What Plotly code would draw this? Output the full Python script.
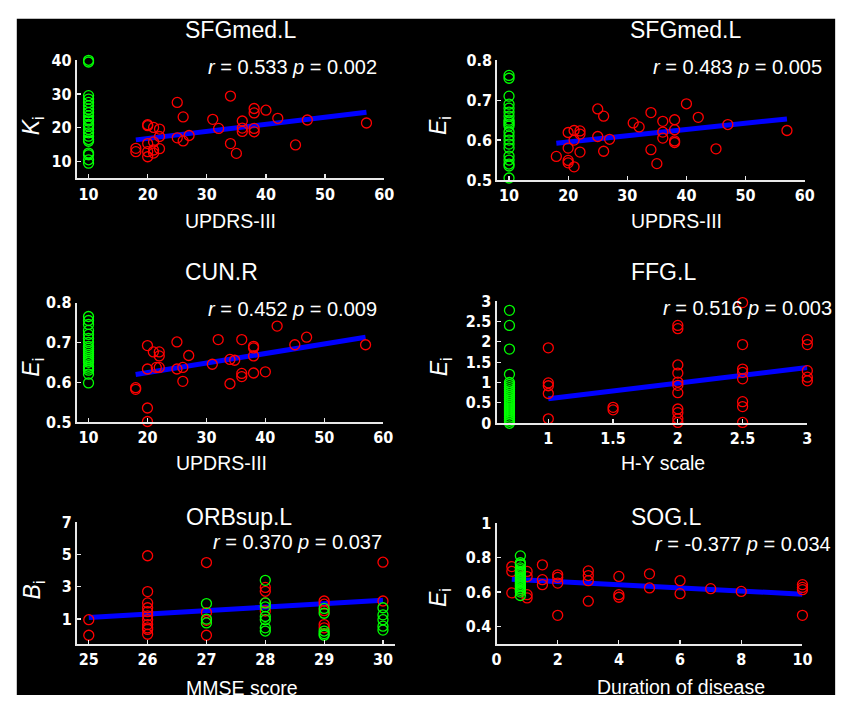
import plotly.graph_objects as go

W, H = 854, 708

# ---------------- data ----------------
# Panel 1: SFGmed.L, K_i vs UPDRS-III
p1_red_x = [18, 18, 20, 20, 20, 20, 20, 21, 21, 21, 21, 22, 22, 22, 25, 25, 26, 26, 27, 31, 32, 34, 34, 35,
            36, 36, 36, 38, 38, 38, 38, 40, 42, 45, 47, 57]
p1_red_y = [13.9, 12.9, 20.9, 20.6, 15.3, 12.9, 11.4, 20.1, 13.4, 15.8, 12.5, 19.6, 17.4, 13.8, 27.5, 17.0,
            23.2, 16.1, 17.7, 22.5, 19.8, 29.4, 15.3, 12.4, 22.0, 19.9, 18.9, 25.7, 24.4, 19.8, 18.8, 25.2,
            22.8, 14.9, 22.3, 21.4]
p1_grn_y = [39.5, 40.0, 29.5, 28.5, 27.5, 26.5, 25.5, 24.5, 23.5, 22.5, 22.0, 21.0, 20.5, 19.5, 18.5, 17.5,
            16.5, 16.0, 12.5, 12.0, 10.5, 9.5]
p1_grn_x = [10] * len(p1_grn_y)
p1_fit_x = [18, 57]
p1_fit_y = [16.4, 24.6]

# Panel 2: SFGmed.L, E_i vs UPDRS-III
p2_red_x = [18, 20, 20, 20, 20, 21, 21, 21, 22, 22, 22, 25, 25, 26, 26, 27, 31, 32, 34, 34, 35, 36, 36, 36,
            38, 38, 38, 38, 40, 42, 45, 47, 57]
p2_red_y = [0.559, 0.619, 0.580, 0.549, 0.543, 0.624, 0.533, 0.600, 0.623, 0.615, 0.570, 0.678, 0.609,
            0.660, 0.572, 0.602, 0.643, 0.633, 0.669, 0.576, 0.541, 0.647, 0.620, 0.605, 0.651, 0.626,
            0.598, 0.594, 0.691, 0.657, 0.578, 0.639, 0.624]
p2_grn_y = [0.762, 0.755, 0.71, 0.69, 0.68, 0.67, 0.66, 0.65, 0.645, 0.64, 0.635, 0.62, 0.61, 0.60, 0.59,
            0.58, 0.56, 0.55, 0.54, 0.535, 0.505]
p2_grn_x = [10] * len(p2_grn_y)
p2_fit_x = [18, 57]
p2_fit_y = [0.592, 0.653]

# Panel 3: CUN.R, E_i vs UPDRS-III
p3_red_x = [18, 18, 20, 20, 20, 20, 21, 22, 22, 21.5, 22, 25, 25, 26, 26, 27, 31, 32, 34, 34, 34.8, 36, 36,
            36, 38, 38, 38, 38, 40, 42, 45, 47, 57]
p3_red_y = [0.586, 0.582, 0.692, 0.633, 0.535, 0.501, 0.676, 0.676, 0.666, 0.637, 0.637, 0.701, 0.633,
            0.637, 0.602, 0.667, 0.645, 0.707, 0.657, 0.596, 0.655, 0.707, 0.622, 0.614, 0.690, 0.686,
            0.666, 0.623, 0.626, 0.741, 0.694, 0.713, 0.694]
p3_grn_y = [0.765, 0.755, 0.745, 0.73, 0.72, 0.71, 0.70, 0.69, 0.685, 0.68, 0.675, 0.67, 0.665, 0.66,
            0.655, 0.65, 0.64, 0.635, 0.63, 0.62, 0.598]
p3_grn_x = [10] * len(p3_grn_y)
p3_fit_x = [18, 57]
p3_fit_y = [0.619, 0.713]

# Panel 4: FFG.L, E_i vs H-Y scale
p4_red_x = [1, 1, 1, 1, 1, 1.5, 1.5, 2, 2, 2, 2, 2, 2, 2, 2, 2, 2, 2, 2.5, 2.5, 2.5, 2.5, 2.5, 2.5, 2.5,
            2.5, 3, 3, 3, 3, 3]
p4_red_y = [1.85, 0.99, 0.92, 0.73, 0.11, 0.39, 0.33, 2.40, 2.32, 1.43, 1.23, 1.01, 0.93, 0.75, 0.35, 0.26,
            0.11, 0.02, 2.96, 1.93, 1.33, 1.25, 1.09, 0.53, 0.41, 0.02, 2.05, 1.93, 1.29, 1.13, 1.04]
p4_grn_y = [2.77, 2.4, 1.82, 1.2, 1.0, 0.95, 0.9, 0.85, 0.8, 0.75, 0.7, 0.65, 0.6, 0.55, 0.5, 0.45, 0.4,
            0.35, 0.3, 0.25, 0.2, 0.15, 0.1, 0.05, 0.0]
p4_grn_x = [0.7] * len(p4_grn_y)
p4_fit_x = [1, 3]
p4_fit_y = [0.6, 1.37]

# Panel 5: ORBsup.L, B_i vs MMSE score
p5_red_x = [25, 25, 26, 26, 26, 26, 26, 26, 26, 26, 26, 26, 26, 27, 27, 27, 27, 28, 28, 28, 28, 29, 29, 29,
            29, 29, 30, 30]
p5_red_y = [0.96, 0.0, 4.92, 2.7, 2.0, 1.7, 1.46, 1.2, 0.96, 0.66, 0.46, 0.36, 0.06, 4.5, 1.4, 0.92, 0.0,
            2.96, 2.72, 2.0, 1.5, 2.12, 1.92, 1.52, 0.66, 0.46, 4.52, 2.12]
p5_grn_x = [27, 27, 27, 28, 28, 28, 28, 28, 28, 28, 29, 29, 29, 29, 29, 30, 30, 30, 30, 30]
p5_grn_y = [1.96, 1.0, 0.76, 3.4, 2.0, 1.76, 1.16, 0.96, 0.46, 0.26, 1.66, 1.36, 0.26, 0.1, 0.0, 1.7,
            1.26, 0.96, 0.56, 0.32]
p5_fit_x = [25, 30]
p5_fit_y = [1.1, 2.17]

# Panel 6: SOG.L, E_i vs Duration of disease
p6_red_x = [0.5, 0.5, 0.5, 1, 1, 1, 1, 1.5, 1.5, 1.5, 2, 2, 2, 2, 3, 3, 3, 3, 4, 4, 4, 5, 5, 6, 6, 7, 8,
            10, 10, 10, 10]
p6_red_y = [0.748, 0.72, 0.595, 0.72, 0.69, 0.585, 0.566, 0.758, 0.672, 0.643, 0.70, 0.685, 0.652, 0.465,
            0.723, 0.696, 0.666, 0.547, 0.691, 0.585, 0.57, 0.706, 0.624, 0.666, 0.591, 0.62, 0.604,
            0.643, 0.627, 0.614, 0.465]
p6_grn_y = [0.81, 0.77, 0.76, 0.74, 0.73, 0.72, 0.71, 0.70, 0.69, 0.68, 0.67, 0.66, 0.65, 0.64, 0.63,
            0.62, 0.61, 0.60, 0.58]
p6_grn_x = [0.78] * len(p6_grn_y)
p6_fit_x = [0.5, 10]
p6_fit_y = [0.675, 0.588]

titles = ["SFGmed.L", "SFGmed.L", "CUN.R", "FFG.L", "ORBsup.L", "SOG.L"]
stats = ["<i>r</i> = 0.533 <i>p</i> = 0.002", "<i>r</i> = 0.483 <i>p</i> = 0.005",
         "<i>r</i> = 0.452 <i>p</i> = 0.009", "<i>r</i> = 0.516 <i>p</i> = 0.003",
         "<i>r</i> = 0.370 <i>p</i> = 0.037", "<i>r</i> = -0.377 <i>p</i> = 0.034"]
xlabels = ["UPDRS-III", "UPDRS-III", "UPDRS-III", "H-Y scale", "MMSE score", "Duration of disease"]
ylabels = ["<i>K</i><sub>i</sub>", "<i>E</i><sub>i</sub>", "<i>E</i><sub>i</sub>",
           "<i>E</i><sub>i</sub>", "<i>B</i><sub>i</sub>", "<i>E</i><sub>i</sub>"]

xtick_vals = [[10, 20, 30, 40, 50, 60], [10, 20, 30, 40, 50, 60], [10, 20, 30, 40, 50, 60],
              [1, 1.5, 2, 2.5, 3], [25, 26, 27, 28, 29, 30], [0, 2, 4, 6, 8, 10]]
xtick_text = [["10", "20", "30", "40", "50", "60"], ["10", "20", "30", "40", "50", "60"],
              ["10", "20", "30", "40", "50", "60"], ["1", "1.5", "2", "2.5", "3"],
              ["25", "26", "27", "28", "29", "30"], ["0", "2", "4", "6", "8", "10"]]
ytick_vals = [[10, 20, 30, 40], [0.5, 0.6, 0.7, 0.8], [0.5, 0.6, 0.7, 0.8],
              [0, 0.5, 1, 1.5, 2, 2.5, 3], [1, 3, 5, 7], [0.4, 0.6, 0.8, 1]]
ytick_text = [["10", "20", "30", "40"], ["0.5", "0.6", "0.7", "0.8"], ["0.5", "0.6", "0.7", "0.8"],
              ["0", "0.5", "1", "1.5", "2", "2.5", "3"], ["1", "3", "5", "7"], ["0.4", "0.6", "0.8", "1"]]

# ---------------- layout helpers (pixel -> paper) ----------------
def fx(p):
    return p / W

def fy(p):
    return 1 - p / H

# plot-area pixel boxes: (left, right, top, bottom)
boxes = [(73, 386, 52.7, 174), (501, 814, 52.7, 175.7), (73, 385, 301.7, 424.3),
         (500.3, 816.7, 300, 425.7), (73.3, 396.7, 527.3, 652.3), (500.3, 811.7, 528.3, 652.3)]
xranges = [[8, 60], [8, 60], [8, 60], [0.6, 3], [24.8, 30.2], [0, 10]]
yranges = [[5, 40], [0.5, 0.8], [0.5, 0.8], [0, 3], [-0.53, 7], [0.3, 1]]

title_pos = [(240, 22), (693, 22), (220, 270), (670, 270), (238, 522), (673, 522)]
stat_pos = [(381, 60), (834, 60), (381, 308), (844, 307), (386, 548), (843, 550)]
xlab_pos = [(230, 218), (683, 218), (220, 467), (670, 467), (241, 698), (688, 697)]
ylab_pos = [(28, 120), (443, 120), (28, 368), (443, 368), (30, 597), (443, 605)]

series = [
    (p1_red_x, p1_red_y, p1_grn_x, p1_grn_y, p1_fit_x, p1_fit_y),
    (p2_red_x, p2_red_y, p2_grn_x, p2_grn_y, p2_fit_x, p2_fit_y),
    (p3_red_x, p3_red_y, p3_grn_x, p3_grn_y, p3_fit_x, p3_fit_y),
    (p4_red_x, p4_red_y, p4_grn_x, p4_grn_y, p4_fit_x, p4_fit_y),
    (p5_red_x, p5_red_y, p5_grn_x, p5_grn_y, p5_fit_x, p5_fit_y),
    (p6_red_x, p6_red_y, p6_grn_x, p6_grn_y, p6_fit_x, p6_fit_y),
]

FONT = "Liberation Sans, Arial, sans-serif"
TICKFONT = "Liberation Sans Narrow, DejaVu Sans Condensed, Liberation Sans, sans-serif"
fig = go.Figure()
annotations = []
layout = dict(
    width=W, height=H, margin=dict(l=0, r=0, t=0, b=0), autosize=False,
    paper_bgcolor="white", plot_bgcolor="black", showlegend=False,
    font=dict(family=FONT, color="white"),
    shapes=[dict(type="rect", xref="paper", yref="paper", x0=fx(12), x1=fx(845), y0=fy(705), y1=fy(10),
                 fillcolor="black", line=dict(width=0), layer="below")],
)

for i, (rx, ry, gx, gy, lx, ly) in enumerate(series):
    n = i + 1
    xa = "x" if n == 1 else f"x{n}"
    ya = "y" if n == 1 else f"y{n}"
    fig.add_trace(go.Scatter(x=lx, y=ly, mode="lines", xaxis=xa, yaxis=ya,
                             line=dict(color="#0000ff", width=5), hoverinfo="skip"))
    fig.add_trace(go.Scatter(x=rx, y=ry, mode="markers", xaxis=xa, yaxis=ya, cliponaxis=False,
                             marker=dict(symbol="circle-open", size=10, color="#ff0000",
                                         line=dict(width=1.3, color="#ff0000"))))
    fig.add_trace(go.Scatter(x=gx, y=gy, mode="markers", xaxis=xa, yaxis=ya, cliponaxis=False,
                             marker=dict(symbol="circle-open", size=10, color="#00ff00",
                                         line=dict(width=1.3, color="#00ff00"))))
    l, r, t, b = boxes[i]
    axis_common = dict(showgrid=False, zeroline=False, showline=True, linecolor="#e8e8e8", linewidth=2,
                       ticks="inside", ticklen=4, tickwidth=1.2, tickcolor="#e8e8e8", tickmode="array",
                       tickfont=dict(family=TICKFONT, size=16, color="white", weight="bold"),
                       fixedrange=True)
    layout["xaxis" if n == 1 else f"xaxis{n}"] = dict(
        axis_common, domain=[fx(l), fx(r)], range=xranges[i], anchor=ya,
        tickvals=xtick_vals[i], ticktext=xtick_text[i])
    layout["yaxis" if n == 1 else f"yaxis{n}"] = dict(
        axis_common, domain=[fy(b), fy(t)], range=yranges[i], anchor=xa,
        tickvals=ytick_vals[i], ticktext=ytick_text[i])

    tx, ty = title_pos[i]
    annotations.append(dict(text=titles[i], x=fx(tx), y=fy(ty), xref="paper", yref="paper",
                            showarrow=False, xanchor="center", yanchor="middle",
                            font=dict(family=FONT, size=23, color="white")))
    sx, sy = stat_pos[i]
    annotations.append(dict(text=stats[i], x=fx(sx), y=fy(sy), xref="paper", yref="paper",
                            showarrow=False, xanchor="right", yanchor="middle",
                            font=dict(family=FONT, size=20, color="white")))
    ax_, ay_ = xlab_pos[i]
    annotations.append(dict(text=xlabels[i], x=fx(ax_), y=fy(ay_), xref="paper", yref="paper",
                            showarrow=False, xanchor="center", yanchor="middle",
                            font=dict(family=FONT, size=19.5, color="white")))
    bx, by = ylab_pos[i]
    annotations.append(dict(text=ylabels[i], x=fx(bx), y=fy(by), xref="paper", yref="paper",
                            showarrow=False, xanchor="center", yanchor="middle", textangle=-90,
                            font=dict(family=FONT, size=23, color="white")))

layout["annotations"] = annotations
fig.update_layout(**layout)

post = (
    "document.documentElement.style.margin='0';document.body.style.margin='0';"
    "document.body.style.padding='0';document.documentElement.style.overflow='hidden';"
    "document.body.style.overflow='hidden';"
    "var gd=document.getElementById('{plot_id}');"
    "gd.style.position='fixed';gd.style.left='0px';gd.style.top='0px';"
)
fig.write_html("out.html", config={"displayModeBar": False, "staticPlot": True}, post_script=post)
